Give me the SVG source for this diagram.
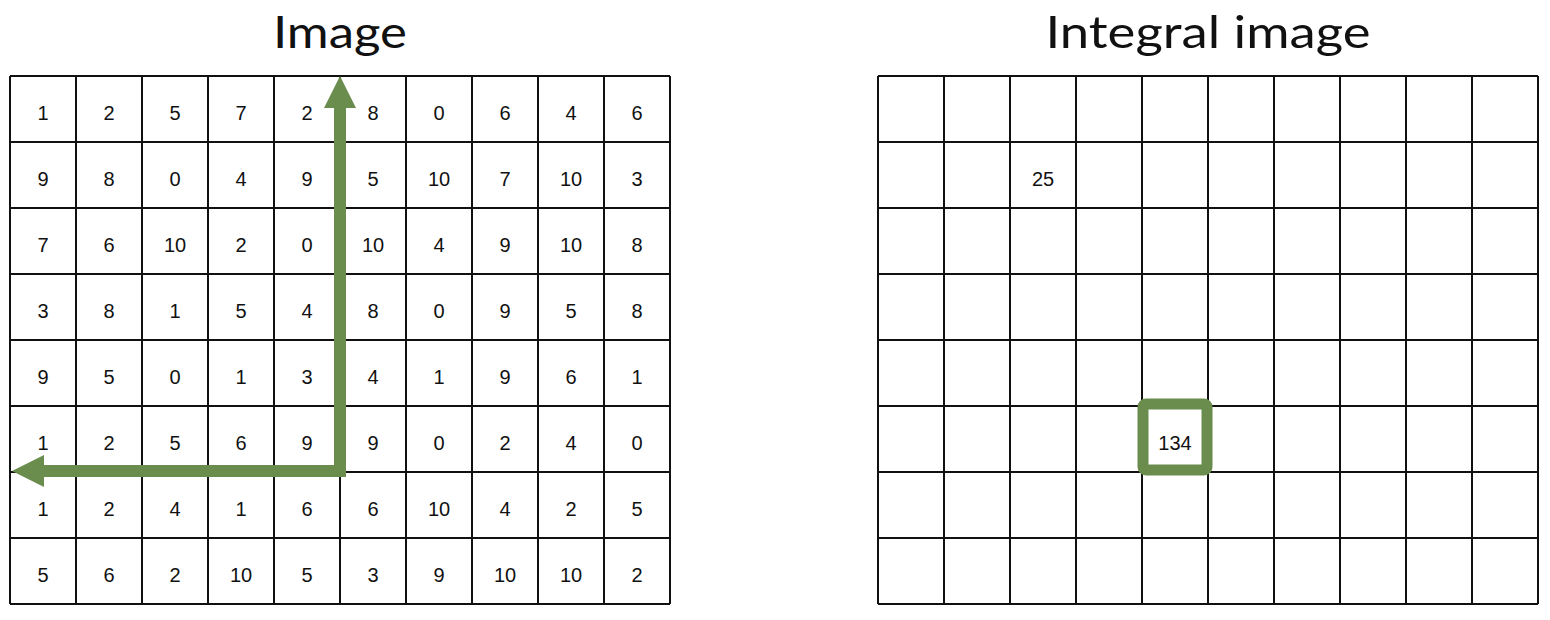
<svg xmlns="http://www.w3.org/2000/svg" width="1550" height="620" viewBox="0 0 1550 620">
<style>
.title{font-family:"Lato","Open Sans","Liberation Sans",sans-serif;font-size:44px;fill:#111;text-anchor:middle}
.grid{fill:none;stroke:#111;stroke-width:2}
.num{font-family:"Liberation Sans",Arial,sans-serif;font-size:20px;fill:#111;text-anchor:middle}
.green{fill:none;stroke:#6a8d4e}
</style>
<defs>
<marker id="head" viewBox="0 0 32 32" refX="0" refY="16" markerWidth="32" markerHeight="32" markerUnits="userSpaceOnUse" orient="auto-start-reverse">
<path d="M0,0 L32,16 L0,32 Z" fill="#6a8d4e"/>
</marker>
</defs>
<rect width="1550" height="620" fill="#ffffff"/>
<g id="image-grid">
<text class="title" x="340" y="48" textLength="134" lengthAdjust="spacingAndGlyphs">Image</text>
<path class="grid" d="M10,76V604M76,76V604M142,76V604M208,76V604M274,76V604M340,76V604M406,76V604M472,76V604M538,76V604M604,76V604M670,76V604M10,76H670M10,142H670M10,208H670M10,274H670M10,340H670M10,406H670M10,472H670M10,538H670M10,604H670"/>
<g class="num">
<text x="43" y="120">1</text><text x="109" y="120">2</text><text x="175" y="120">5</text><text x="241" y="120">7</text><text x="307" y="120">2</text><text x="373" y="120">8</text><text x="439" y="120">0</text><text x="505" y="120">6</text><text x="571" y="120">4</text><text x="637" y="120">6</text>
<text x="43" y="186">9</text><text x="109" y="186">8</text><text x="175" y="186">0</text><text x="241" y="186">4</text><text x="307" y="186">9</text><text x="373" y="186">5</text><text x="439" y="186">10</text><text x="505" y="186">7</text><text x="571" y="186">10</text><text x="637" y="186">3</text>
<text x="43" y="252">7</text><text x="109" y="252">6</text><text x="175" y="252">10</text><text x="241" y="252">2</text><text x="307" y="252">0</text><text x="373" y="252">10</text><text x="439" y="252">4</text><text x="505" y="252">9</text><text x="571" y="252">10</text><text x="637" y="252">8</text>
<text x="43" y="318">3</text><text x="109" y="318">8</text><text x="175" y="318">1</text><text x="241" y="318">5</text><text x="307" y="318">4</text><text x="373" y="318">8</text><text x="439" y="318">0</text><text x="505" y="318">9</text><text x="571" y="318">5</text><text x="637" y="318">8</text>
<text x="43" y="384">9</text><text x="109" y="384">5</text><text x="175" y="384">0</text><text x="241" y="384">1</text><text x="307" y="384">3</text><text x="373" y="384">4</text><text x="439" y="384">1</text><text x="505" y="384">9</text><text x="571" y="384">6</text><text x="637" y="384">1</text>
<text x="43" y="450">1</text><text x="109" y="450">2</text><text x="175" y="450">5</text><text x="241" y="450">6</text><text x="307" y="450">9</text><text x="373" y="450">9</text><text x="439" y="450">0</text><text x="505" y="450">2</text><text x="571" y="450">4</text><text x="637" y="450">0</text>
<text x="43" y="516">1</text><text x="109" y="516">2</text><text x="175" y="516">4</text><text x="241" y="516">1</text><text x="307" y="516">6</text><text x="373" y="516">6</text><text x="439" y="516">10</text><text x="505" y="516">4</text><text x="571" y="516">2</text><text x="637" y="516">5</text>
<text x="43" y="582">5</text><text x="109" y="582">6</text><text x="175" y="582">2</text><text x="241" y="582">10</text><text x="307" y="582">5</text><text x="373" y="582">3</text><text x="439" y="582">9</text><text x="505" y="582">10</text><text x="571" y="582">10</text><text x="637" y="582">2</text>
</g>
</g>
<g id="integral-grid">
<text class="title" x="1208" y="48" textLength="325" lengthAdjust="spacingAndGlyphs">Integral image</text>
<path class="grid" d="M878,76V604M944,76V604M1010,76V604M1076,76V604M1142,76V604M1208,76V604M1274,76V604M1340,76V604M1406,76V604M1472,76V604M1538,76V604M878,76H1538M878,142H1538M878,208H1538M878,274H1538M878,340H1538M878,406H1538M878,472H1538M878,538H1538M878,604H1538"/>
<text class="num" x="1043" y="186">25</text>
</g>
<g id="highlight-134">
<rect class="green" x="1143" y="404" width="64" height="66" rx="3" stroke-width="11"/>
<text class="num" x="1175" y="450">134</text>
</g>
<g id="connectors">
<path class="green" d="M44,471 L340,471 L340,108" stroke-width="12" stroke-linejoin="miter" marker-start="url(#head)" marker-end="url(#head)"/>
</g>
</svg>
